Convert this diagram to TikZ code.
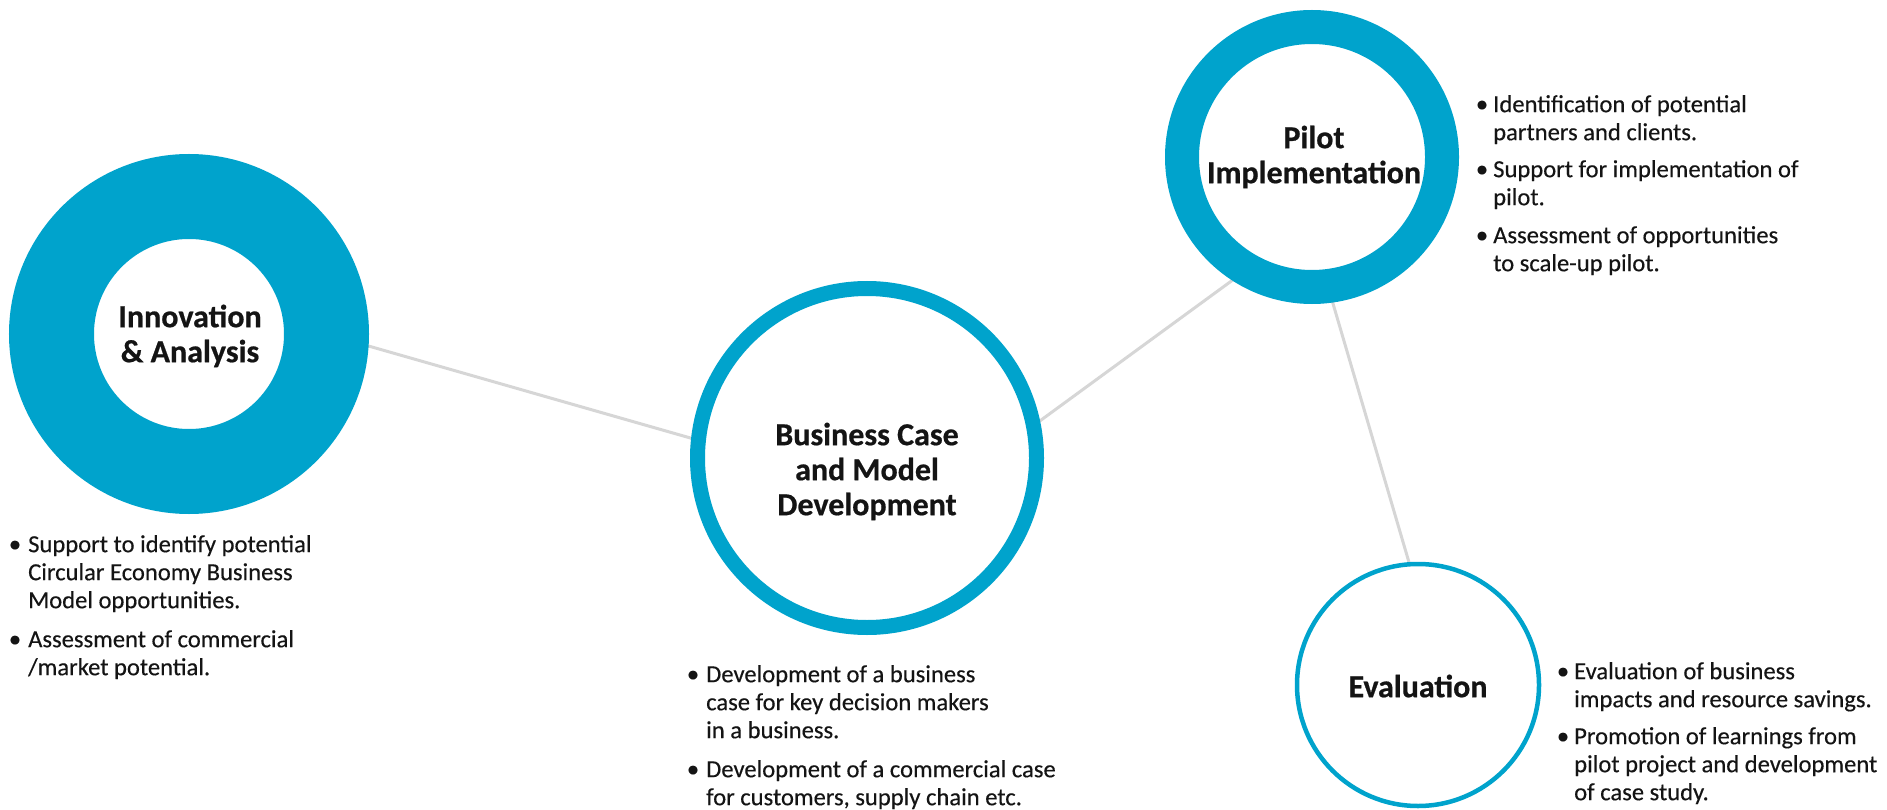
\documentclass[tikz,border=0pt]{standalone}
\usepackage{fontspec}
\setmainfont{Carlito}
\newfontfamily\bodyfont{Carlito}[FakeBold=0.35]
\usetikzlibrary{backgrounds}
\definecolor{ringblue}{RGB}{0,163,204}
\definecolor{linkgray}{RGB}{214,214,214}
\definecolor{txt}{RGB}{20,20,20}
\begin{document}
\begin{tikzpicture}[x=1pt,y=-1pt,
  ring/.style={circle, draw=ringblue, fill=white, inner sep=0pt, outer sep=0pt},
  title/.style={anchor=north, inner sep=0pt, align=center, text=txt, font=\bfseries\addfontfeatures{FakeBold=0.6}\fontsize{32pt}{35pt}\selectfont},
  link/.style={draw=linkgray, line width=3pt},
  item/.style={anchor=north west, inner sep=0pt, align=left, text=txt, font=\bodyfont\fontsize{24.6pt}{28pt}\selectfont},
  bul/.style={anchor=base, inner sep=0pt, text=txt, font=\bodyfont\fontsize{24.6pt}{28pt}\selectfont}]
\useasboundingbox (0,0) rectangle (1887,810);
% circles
\node[ring, minimum size=275pt, line width=85pt] (inn) at (189,334) {};
\node[ring, minimum size=339pt, line width=15pt] (bus) at (867,458) {};
\node[ring, minimum size=260pt, line width=34pt] (pil) at (1312,157) {};
\node[ring, minimum size=242pt, line width=4.5pt] (eva) at (1418,685) {};
% titles (first baseline minus 24pt)
\node[title] (innT) at (190,303) {\rule{0pt}{24pt}Innovation\\\& Analysis};
\node[title] (busT) at (867,421) {\rule{0pt}{24pt}Business Case\\and Model\\Development};
\node[title] (pilT) at (1314,124) {\rule{0pt}{24pt}Pilot\\Implementation};
\node[title] (evaT) at (1418,673) {\rule{0pt}{24pt}Evaluation};
% connectors
\begin{scope}[on background layer]
\draw[link] (inn.-0.5) -- (bus.174);
\draw[link] (bus.11) -- (pil.-120);
\draw[link] (pil.-83) -- (eva.94);
\end{scope}
% Innovation bullets
\node[bul] (b1a) at (15,552) {\textbullet};
\node[item] (t1a) at (28,532) {\rule{0pt}{20pt}Support to identify potential\\Circular Economy Business\\Model opportunities.};
\node[bul] (b1b) at (15,647) {\textbullet};
\node[item] (t1b) at (28,627) {\rule{0pt}{20pt}Assessment of commercial\\/market potential.};
% Business bullets
\node[bul] (b2a) at (693,682) {\textbullet};
\node[item] (t2a) at (706,662) {\rule{0pt}{20pt}Development of a business\\case for key decision makers\\in a business.};
\node[bul] (b2b) at (693,777) {\textbullet};
\node[item] (t2b) at (706,757) {\rule{0pt}{20pt}Development of a commercial case\\for customers, supply chain etc.};
% Pilot bullets
\node[bul] (b3a) at (1482,112) {\textbullet};
\node[item] (t3a) at (1493,92) {\rule{0pt}{20pt}Identification of potential\\partners and clients.};
\node[bul] (b3b) at (1482,177) {\textbullet};
\node[item] (t3b) at (1493,157) {\rule{0pt}{20pt}Support for implementation of\\pilot.};
\node[bul] (b3c) at (1482,243) {\textbullet};
\node[item] (t3c) at (1493,223) {\rule{0pt}{20pt}Assessment of opportunities\\to scale-up pilot.};
% Evaluation bullets
\node[bul] (b4a) at (1563,679) {\textbullet};
\node[item] (t4a) at (1574,659) {\rule{0pt}{20pt}Evaluation of business\\impacts and resource savings.};
\node[bul] (b4b) at (1563,744) {\textbullet};
\node[item] (t4b) at (1574,724) {\rule{0pt}{20pt}Promotion of learnings from\\pilot project and development\\of case study.};
\end{tikzpicture}
\end{document}
